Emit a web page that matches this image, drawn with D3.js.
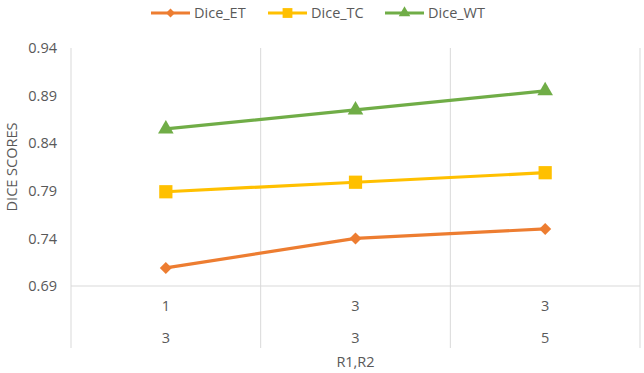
<!DOCTYPE html>
<html><head><meta charset="utf-8">
<script src="https://cdn.jsdelivr.net/npm/d3@7"></script>
<style>body{margin:0;background:#fff}svg{display:block}</style>
</head><body>
<script>
const categories = ["1|3", "3|3", "3|5"];
const row1Labels = ["1", "3", "3"];
const row2Labels = ["3", "3", "5"];
const diceET = [0.709, 0.740, 0.750];
const diceTC = [0.789, 0.799, 0.809];
const diceWT = [0.855, 0.875, 0.895];
const yTicks = [0.69, 0.74, 0.79, 0.84, 0.89, 0.94];
const seriesNames = ["Dice_ET", "Dice_TC", "Dice_WT"];

const series = [
  {name: seriesNames[0], values: diceET, color: "#ED7D31", sym: "diamond"},
  {name: seriesNames[1], values: diceTC, color: "#FFC000", sym: "square"},
  {name: seriesNames[2], values: diceWT, color: "#70AD47", sym: "triangle"}
];

const W = 644, H = 373;
const svg = d3.select("body").append("svg").attr("width", W).attr("height", H);
const font = "'Open Sans', Calibri, sans-serif";
const fs = "14.5px";
const pLeft = 71, pRight = 640, pTop = 48, pBottom = 286, gridBottom = 348;

const x = d3.scaleBand().domain(categories).range([pLeft, pRight]).padding(0);
const y = d3.scaleLinear().domain([0.69, 0.94]).range([pBottom, pTop]);

// vertical category gridlines
const bounds = [pLeft].concat(categories.map(c => x(c) + x.bandwidth()));
svg.append("g").selectAll("line").data(bounds).join("line")
  .attr("x1", d => d).attr("x2", d => d).attr("y1", pTop).attr("y2", gridBottom)
  .attr("stroke", "#d9d9d9").attr("stroke-width", 1);
// bottom axis line
svg.append("line").attr("x1", pLeft).attr("x2", pRight).attr("y1", y(0.69)).attr("y2", y(0.69))
  .attr("stroke", "#d9d9d9").attr("stroke-width", 1);

// y axis labels
const yAxis = d3.axisLeft(y).tickValues(yTicks).tickFormat(d3.format(".2f")).tickSize(0).tickPadding(14);
const gy = svg.append("g").attr("transform", `translate(${pLeft},0)`).call(yAxis);
gy.select(".domain").remove();
gy.selectAll("text").attr("fill", "#595959").style("font-family", font).style("font-size", fs);

// category labels (two rows)
const gx = svg.append("g");
gx.selectAll("text.r1").data(categories).join("text").attr("class", "r1")
  .attr("x", d => x(d) + x.bandwidth() / 2).attr("y", 311)
  .attr("text-anchor", "middle").attr("fill", "#595959")
  .style("font-family", font).style("font-size", fs)
  .text((d, i) => row1Labels[i]);
gx.selectAll("text.r2").data(categories).join("text").attr("class", "r2")
  .attr("x", d => x(d) + x.bandwidth() / 2).attr("y", 343)
  .attr("text-anchor", "middle").attr("fill", "#595959")
  .style("font-family", font).style("font-size", fs)
  .text((d, i) => row2Labels[i]);

// axis titles
svg.append("text").attr("x", (pLeft + pRight) / 2).attr("y", 367).attr("text-anchor", "middle")
  .attr("fill", "#595959").style("font-family", font).style("font-size", fs).text("R1,R2");
svg.append("text").attr("transform", `translate(17,${(pTop + pBottom) / 2}) rotate(-90)`)
  .attr("text-anchor", "middle").attr("fill", "#595959")
  .style("font-family", font).style("font-size", fs).text("DICE SCORES");

const symType = {diamond: d3.symbolSquare, square: d3.symbolSquare, triangle: d3.symbolTriangle};
const symSize = {diamond: 72, square: 175, triangle: 105};
const symRot = {diamond: 45, square: 0, triangle: 0};

const line = d3.line().x((d, i) => x(categories[i]) + x.bandwidth() / 2).y(d => y(d));
series.forEach(s => {
  svg.append("path").attr("d", line(s.values)).attr("fill", "none")
    .attr("stroke", s.color).attr("stroke-width", 3.2).attr("stroke-linecap", "round");
  svg.append("g").selectAll("path").data(s.values).join("path")
    .attr("transform", (d, i) => `translate(${x(categories[i]) + x.bandwidth() / 2},${y(d)}) rotate(${symRot[s.sym]})`)
    .attr("d", d3.symbol().type(symType[s.sym]).size(symSize[s.sym]))
    .attr("fill", s.color);
});

// legend
const legX = [151, 268, 385];
series.forEach((s, i) => {
  const g = svg.append("g").attr("transform", `translate(${legX[i]},13)`);
  g.append("line").attr("x1", 0).attr("x2", 39).attr("y1", 0).attr("y2", 0)
    .attr("stroke", s.color).attr("stroke-width", 3.2);
  g.append("path").attr("transform", `translate(19.5,0) rotate(${symRot[s.sym]})`)
    .attr("d", d3.symbol().type(symType[s.sym]).size(symSize[s.sym] * 0.55)).attr("fill", s.color);
  g.append("text").attr("x", 43).attr("y", 5).attr("fill", "#595959")
    .style("font-family", font).style("font-size", fs).text(s.name);
});
</script>
</body></html>
